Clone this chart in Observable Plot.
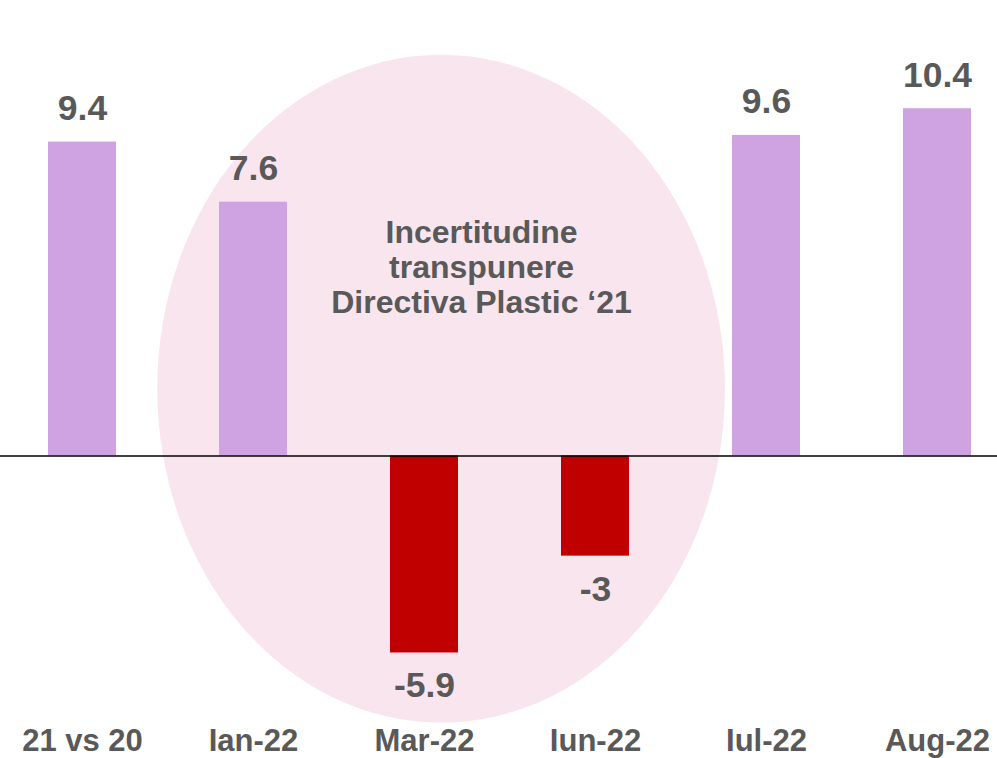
<!DOCTYPE html>
<html>
<head>
<meta charset="utf-8">
<script src="https://cdn.jsdelivr.net/npm/d3@7"></script>
<script src="https://cdn.jsdelivr.net/npm/@observablehq/plot@0.6"></script>
<style>
  html, body { margin: 0; padding: 0; background: #ffffff; }
  #chart { width: 997px; height: 758px; overflow: hidden; }
  svg { display: block; }
</style>
</head>
<body>
<div id="chart"></div>
<script>
// Data
const categories = ["21 vs 20", "Ian-22", "Mar-22", "Iun-22", "Iul-22", "Aug-22"];
const values = [9.4, 7.6, -5.9, -3, 9.6, 10.4];
const valueLabels = ["9.4", "7.6", "-5.9", "-3", "9.6", "10.4"];
const annotationText = "Incertitudine\ntranspunere\nDirectiva Plastic \u201821";
// annotation ellipse, in category-step and value units
const ellipseCenterIndex = [2.1];  // position along categories (0 = first)
const ellipseCenterValue = [2.0];
const ellipseRadiusSteps = [1.66];
const ellipseRadiusValue = [10.0];

const data = categories.map((c, i) => ({cat: c, v: values[i], label: valueLabels[i]}));

const W = 997, H = 758;
const textColor = "#595959";
const posColor = "#CFA3E2";
const negColor = "#C00000";

const plot = Plot.plot({
  width: W,
  height: H,
  marginTop: 0,
  marginRight: 0,
  marginBottom: 30,
  marginLeft: 0,
  style: {fontFamily: "'Liberation Sans', Arial, sans-serif", background: "#ffffff"},
  x: {domain: categories, range: [0, W], paddingInner: 0.6, paddingOuter: 0.21, align: 0.65, label: null},
  y: {domain: [-9.06, 13.64], range: [H, 0], axis: null},
  marks: [
    Plot.barY(data, {x: "cat", y: "v", fill: d => d.v >= 0 ? posColor : negColor}),
    Plot.ruleY([0], {stroke: "#000000", strokeWidth: 1.5}),
    Plot.text(data.filter(d => d.v >= 0), {x: "cat", y: "v", text: "label", dy: -33.5, fill: textColor, fontSize: 35.5, fontWeight: "bold"}),
    Plot.text(data.filter(d => d.v < 0), {x: "cat", y: "v", text: "label", dy: 33, fill: textColor, fontSize: 35.5, fontWeight: "bold"}),
    Plot.text([annotationText], {x: () => "Mar-22", y: () => 5.66, text: d => d, dx: 57, lineHeight: 1.1, fill: textColor, fontSize: 32, fontWeight: "bold"}),
    Plot.axisX({tickSize: 0, tickPadding: 0, fontSize: 31, fontWeight: "bold", fill: textColor, label: null})
  ]
});

// annotation ellipse behind the marks, placed through the plot's own scales
const xs = plot.scale("x"), ys = plot.scale("y");
const step = xs.step;
const cx = xs.apply(categories[0]) + xs.bandwidth / 2 + ellipseCenterIndex[0] * step;
const cy = ys.apply(ellipseCenterValue[0]);
const rx = ellipseRadiusSteps[0] * step;
const ry = Math.abs(ys.apply(0) - ys.apply(ellipseRadiusValue[0]));
const firstG = plot.querySelector("g");
const ell = document.createElementNS("http://www.w3.org/2000/svg", "ellipse");
ell.setAttribute("cx", cx);
ell.setAttribute("cy", cy);
ell.setAttribute("rx", rx);
ell.setAttribute("ry", ry);
ell.setAttribute("fill", "#F9E5EE");
plot.insertBefore(ell, firstG);

document.getElementById("chart").appendChild(plot);
</script>
</body>
</html>
